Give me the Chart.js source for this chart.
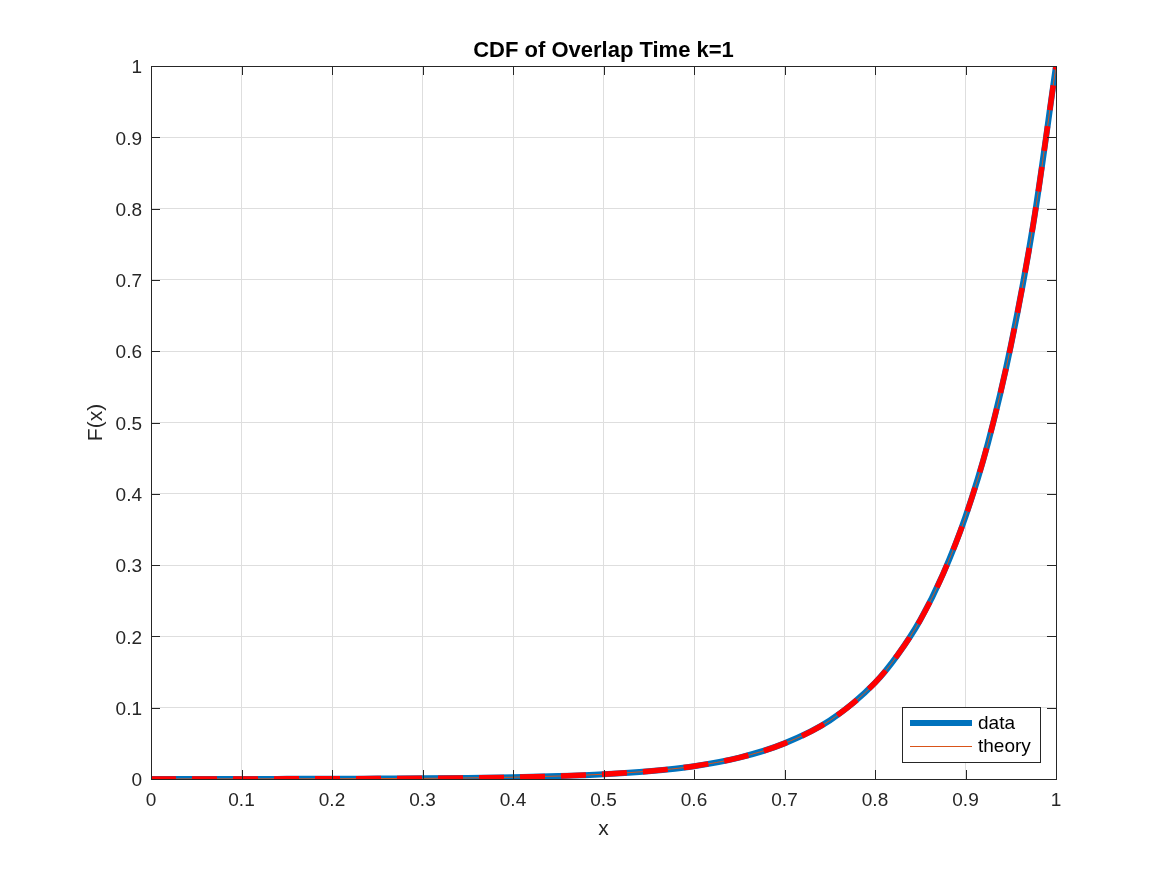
<!DOCTYPE html>
<html>
<head>
<meta charset="utf-8">
<script src="https://cdn.jsdelivr.net/npm/chart.js@4/dist/chart.umd.min.js"></script>
<style>
html,body{margin:0;padding:0;background:#fff;}
canvas{display:block;}
</style>
</head>
<body>
<canvas id="c" width="1167" height="875"></canvas>
<script>
const xValues = [0,0.05,0.1,0.15,0.2,0.25,0.3,0.35,0.4,0.45,0.5,0.55,0.6,0.65,0.7,0.75,0.8,0.825,0.85,0.875,0.9,0.925,0.95,0.975,1.0];
const dataValues = [0.0000,0.0001,0.0001,0.0002,0.0003,0.0006,0.0009,0.0015,0.0025,0.0041,0.0067,0.011,0.018,0.030,0.050,0.082,0.135,0.174,0.223,0.287,0.368,0.472,0.607,0.779,1.0];
const theoryValues = [0.0000,0.0001,0.0001,0.0002,0.0003,0.0006,0.0009,0.0015,0.0025,0.0041,0.0067,0.011,0.018,0.030,0.050,0.082,0.135,0.174,0.223,0.287,0.368,0.472,0.607,0.779,1.0];
const tickValues = [0,0.1,0.2,0.3,0.4,0.5,0.6,0.7,0.8,0.9,1];
const seriesNames = ['data','theory'];
const titleText = 'CDF of Overlap Time k=1';
const xLabel = 'x';
const yLabel = 'F(x)';

const FONT = '"Liberation Sans", Arial, Helvetica, sans-serif';
const AXC = '#262626';

function pts(vals){ return xValues.map((x,i)=>({x:x,y:vals[i]})); }

const decor = {
  id:'decor',
  afterDatasetsDraw(chart){
    const ctx = chart.ctx, a = chart.chartArea;
    const xs = chart.scales.x, ys = chart.scales.y;
    ctx.save();
    ctx.strokeStyle = AXC; ctx.lineWidth = 1;
    const tl = 9;
    tickValues.forEach(v=>{
      const px = Math.round(xs.getPixelForValue(v))+0.5;
      ctx.beginPath();
      ctx.moveTo(px,a.bottom); ctx.lineTo(px,a.bottom-tl);
      ctx.moveTo(px,a.top); ctx.lineTo(px,a.top+tl);
      ctx.stroke();
      const py = Math.round(ys.getPixelForValue(v))+0.5;
      ctx.beginPath();
      ctx.moveTo(a.left,py); ctx.lineTo(a.left+tl,py);
      ctx.moveTo(a.right,py); ctx.lineTo(a.right-tl,py);
      ctx.stroke();
    });
    ctx.strokeRect(Math.round(a.left)+0.5, Math.round(a.top)+0.5, Math.round(a.right-a.left), Math.round(a.bottom-a.top));
    // legend
    const lx=902.5, ly=707.5, lw=138, lh=55;
    ctx.fillStyle='#fff'; ctx.fillRect(lx,ly,lw,lh);
    ctx.strokeStyle=AXC; ctx.lineWidth=1; ctx.strokeRect(lx,ly,lw,lh);
    const ds = chart.data.datasets;
    ctx.lineCap='butt';
    ctx.strokeStyle=ds[0].borderColor; ctx.lineWidth=ds[0].borderWidth;
    ctx.beginPath(); ctx.moveTo(910,723); ctx.lineTo(972,723); ctx.stroke();
    ctx.strokeStyle=ds[1].borderColor; ctx.lineWidth=ds[1].borderWidth;
    ctx.beginPath(); ctx.moveTo(910,746.5); ctx.lineTo(972,746.5); ctx.stroke();
    ctx.fillStyle='#000'; ctx.font='19px '+FONT; ctx.textBaseline='middle'; ctx.textAlign='left';
    ctx.fillText(seriesNames[0],978,724);
    ctx.fillText(seriesNames[1],978,747);
    // title and axis labels
    ctx.fillStyle='#000';
    ctx.font='bold 22px '+FONT; ctx.textAlign='center'; ctx.textBaseline='middle';
    ctx.fillText(titleText,(a.left+a.right)/2,51);
    ctx.fillStyle=AXC;
    ctx.font='21px '+FONT;
    ctx.fillText(xLabel,(a.left+a.right)/2,829);
    ctx.save();
    ctx.translate(96,(a.top+a.bottom)/2);
    ctx.rotate(-Math.PI/2);
    ctx.fillText(yLabel,0,0);
    ctx.restore();
    ctx.restore();
  }
};

new Chart(document.getElementById('c'),{
  type:'line',
  data:{
    datasets:[
      {label:seriesNames[0], data:pts(dataValues), borderColor:'#0072BD', borderWidth:6, pointRadius:0, cubicInterpolationMode:'monotone', fill:false, order:3},
      {label:seriesNames[1], data:pts(theoryValues), borderColor:'#D95319', borderWidth:1, pointRadius:0, cubicInterpolationMode:'monotone', fill:false, order:2},
      {label:'theory dashed', data:pts(theoryValues), borderColor:'#FF0000', borderWidth:5.5, borderDash:[25,16], pointRadius:0, cubicInterpolationMode:'monotone', fill:false, order:1}
    ]
  },
  options:{
    responsive:false,
    animation:false,
    devicePixelRatio:1,
    layout:{padding:{top:66,right:111,left:0,bottom:0}},
    plugins:{legend:{display:false},title:{display:false},tooltip:{enabled:false}},
    scales:{
      x:{type:'linear',min:0,max:1,
        afterFit(s){s.height=96;},
        afterBuildTicks(s){s.ticks=tickValues.map(v=>({value:v}));},
        ticks:{padding:10,color:AXC,font:{family:FONT,size:19},maxRotation:0,callback:v=>String(Number(v.toFixed(1)))},
        grid:{color:'#dedede',lineWidth:1,drawTicks:false},
        border:{display:false}
      },
      y:{type:'linear',min:0,max:1,
        afterFit(s){s.width=151;},
        afterBuildTicks(s){s.ticks=tickValues.map(v=>({value:v}));},
        ticks:{padding:9,labelOffset:2,color:AXC,font:{family:FONT,size:19},callback:v=>String(Number(v.toFixed(1)))},
        grid:{color:'#dedede',lineWidth:1,drawTicks:false},
        border:{display:false}
      }
    }
  },
  plugins:[decor]
});
</script>
</body>
</html>
